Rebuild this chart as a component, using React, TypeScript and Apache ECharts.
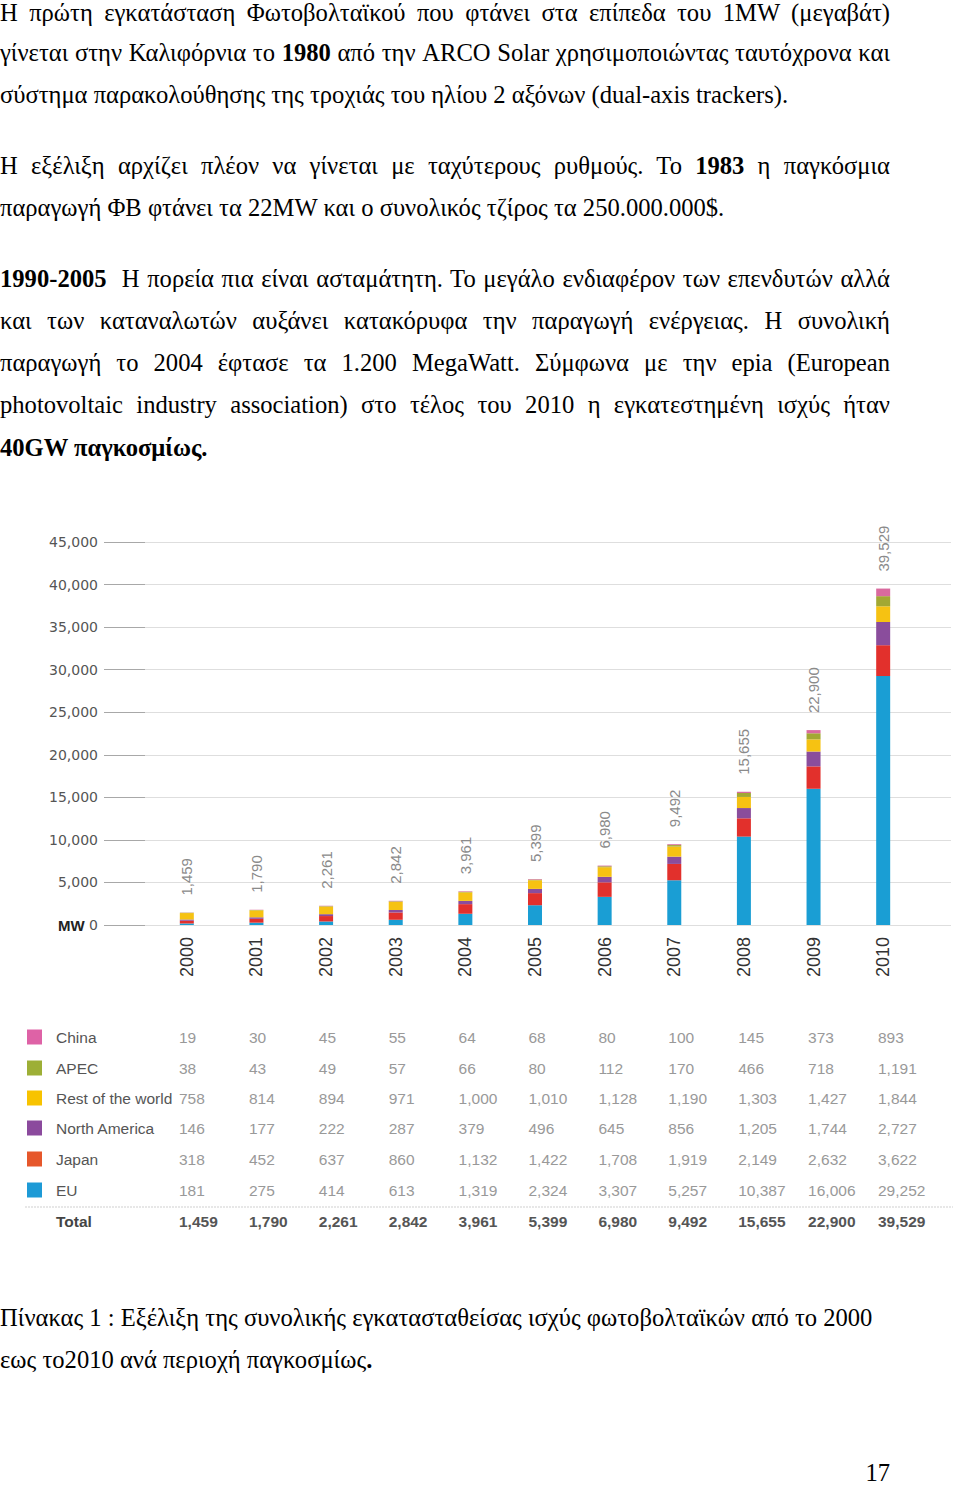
import React, { useEffect, useRef } from "react";
import * as echarts from "echarts";

// ---------- data ----------
const years = ["2000", "2001", "2002", "2003", "2004", "2005", "2006", "2007", "2008", "2009", "2010"];
const regionNames = ["China", "APEC", "Rest of the world", "North America", "Japan", "EU"];
const barColors = ["#d96a9e", "#a2a833", "#f6c212", "#8a4d9c", "#e2302c", "#1a9ed4"];
const swatchColors = ["#de62a6", "#9daf36", "#f8c300", "#8b4a9d", "#e6572b", "#1d9ad6"];
const china = [19, 30, 45, 55, 64, 68, 80, 100, 145, 373, 893];
const apec = [38, 43, 49, 57, 66, 80, 112, 170, 466, 718, 1191];
const restOfWorld = [758, 814, 894, 971, 1000, 1010, 1128, 1190, 1303, 1427, 1844];
const northAmerica = [146, 177, 222, 287, 379, 496, 645, 856, 1205, 1744, 2727];
const japan = [318, 452, 637, 860, 1132, 1422, 1708, 1919, 2149, 2632, 3622];
const eu = [181, 275, 414, 613, 1319, 2324, 3307, 5257, 10387, 16006, 29252];
const totals = [1459, 1790, 2261, 2842, 3961, 5399, 6980, 9492, 15655, 22900, 39529];
const regionValues = [china, apec, restOfWorld, northAmerica, japan, eu];
const yMin = 0;
const yMax = 45000;
const yStep = 5000;

// ---------- text ----------
type Seg = [string, boolean];
type Line = { segs: Seg[]; justify: boolean; baseline: number };
const lines: Line[] = [
  { segs: [["Η πρώτη εγκατάσταση Φωτοβολταϊκού που φτάνει στα επίπεδα του 1MW (μεγαβάτ)", false]], justify: true, baseline: 22 },
  { segs: [["γίνεται στην Καλιφόρνια το ", false], ["1980", true], [" από την ARCO Solar χρησιμοποιώντας ταυτόχρονα και", false]], justify: true, baseline: 62 },
  { segs: [["σύστημα παρακολούθησης της τροχιάς του ηλίου 2 αξόνων (dual-axis trackers).", false]], justify: false, baseline: 104 },
  { segs: [["Η εξέλιξη αρχίζει πλέον να γίνεται με ταχύτερους ρυθμούς. Το ", false], ["1983", true], [" η παγκόσμια", false]], justify: true, baseline: 175 },
  { segs: [["παραγωγή ΦΒ φτάνει τα 22MW και ο συνολικός τζίρος τα 250.000.000$.", false]], justify: false, baseline: 217 },
  { segs: [["1990-2005", true], ["\u00a0 Η πορεία πια είναι ασταμάτητη. Το μεγάλο ενδιαφέρον των επενδυτών αλλά", false]], justify: true, baseline: 288 },
  { segs: [["και των καταναλωτών αυξάνει κατακόρυφα την παραγωγή ενέργειας. Η συνολική", false]], justify: true, baseline: 330 },
  { segs: [["παραγωγή το 2004 έφτασε τα 1.200 MegaWatt. Σύμφωνα με την epia (European", false]], justify: true, baseline: 372 },
  { segs: [["photovoltaic industry association) στο τέλος του 2010 η εγκατεστημένη ισχύς ήταν", false]], justify: true, baseline: 414 },
  { segs: [["40GW παγκοσμίως.", true]], justify: false, baseline: 457 },
  { segs: [["Πίνακας 1 : Εξέλιξη της συνολικής εγκατασταθείσας ισχύς φωτοβολταϊκών από το 2000", false]], justify: false, baseline: 1327 },
  { segs: [["εως το2010 ανά περιοχή παγκοσμίως", false], [".", true]], justify: false, baseline: 1369 },
];

const FONT = 24.6;
const BASE_OFF = 0.8375 * FONT;
const serif = '"Liberation Serif", "Times New Roman", serif';

function TextLine({ line }: { line: Line }) {
  return (
    <div
      style={{
        position: "absolute",
        left: 0,
        top: line.baseline - BASE_OFF,
        width: 890,
        fontFamily: serif,
        fontSize: FONT,
        lineHeight: FONT + "px",
        color: "#000",
        textAlign: "justify",
        textAlignLast: line.justify ? "justify" : "left",
        whiteSpace: "nowrap",
      } as any}
    >
      {line.segs.map((s, i) => (s[1] ? <b key={i}>{s[0]}</b> : <span key={i}>{s[0]}</span>))}
    </div>
  );
}

function Chart() {
  const ref = useRef<HTMLDivElement>(null);
  useEffect(() => {
    if (!ref.current) return;
    const chart = echarts.init(ref.current, null, { renderer: "svg" });
    const sans = '"Liberation Sans", Arial, sans-serif';
    const order = [5, 4, 3, 2, 1, 0]; // EU bottom ... China top
    const series: any[] = order.map((ri, k) => ({
      name: regionNames[ri],
      type: "bar",
      stack: "total",
      xAxisIndex: 1,
      yAxisIndex: 1,
      barWidth: 14,
      data: regionValues[ri],
      itemStyle: { color: barColors[ri] },
      label:
        k === order.length - 1
          ? {
              show: true,
              position: "top",
              distance: 17,
              rotate: 90,
              align: "left",
              verticalAlign: "middle",
              color: "#8a8a8a",
              fontSize: 15,
              fontFamily: sans,
              formatter: (p: any) => totals[p.dataIndex].toLocaleString("en-US"),
            }
          : { show: false },
    }));

    // table graphic
    const rowY = [537, 568, 598, 628, 659, 690];
    const totalY = 721;
    const colX = years.map((_, i) => 179 + 69.9 * i);
    const graphics: any[] = [];
    regionNames.forEach((name, r) => {
      graphics.push({
        type: "rect",
        shape: { x: 27, y: rowY[r] - 7.5, width: 15, height: 15 },
        style: { fill: swatchColors[r] },
      });
      graphics.push({
        type: "text",
        x: 56,
        y: rowY[r],
        style: { text: name, fill: "#555", fontSize: 15.5, fontFamily: sans, verticalAlign: "middle", align: "left" },
      });
      regionValues[r].forEach((v, i) => {
        graphics.push({
          type: "text",
          x: colX[i],
          y: rowY[r],
          style: { text: v.toLocaleString("en-US"), fill: "#999", fontSize: 15.5, fontFamily: sans, verticalAlign: "middle", align: "left" },
        });
      });
    });
    graphics.push({
      type: "line",
      shape: { x1: 25, y1: 707, x2: 953, y2: 707 },
      style: { stroke: "#cfcfcf", lineWidth: 1, lineDash: [2, 1] },
    });
    graphics.push({
      type: "text",
      x: 56,
      y: totalY,
      style: { text: "Total", fill: "#444", fontSize: 15.5, fontWeight: "bold", fontFamily: sans, verticalAlign: "middle", align: "left" },
    });
    totals.forEach((v, i) => {
      graphics.push({
        type: "text",
        x: colX[i],
        y: totalY,
        style: { text: v.toLocaleString("en-US"), fill: "#555", fontSize: 15.5, fontWeight: "bold", fontFamily: sans, verticalAlign: "middle", align: "left" },
      });
    });

    chart.setOption({
      animation: false,
      grid: [
        { left: 104, top: 42, width: 847, height: 383 },
        { left: 152, top: 42, width: 766, height: 383 },
      ],
      xAxis: [
        { gridIndex: 0, type: "category", data: [""], show: false },
        {
          gridIndex: 1,
          type: "category",
          data: years,
          axisLine: { show: false },
          axisTick: { show: false },
          axisLabel: {
            rotate: 90,
            margin: 12,
            color: "#333",
            fontSize: 18,
            fontFamily: sans,
          },
        },
      ],
      yAxis: [
        {
          gridIndex: 0,
          type: "value",
          min: yMin,
          max: yMax,
          interval: yStep,
          axisLine: { show: false },
          axisTick: { show: true, inside: true, length: 41, lineStyle: { color: "#a8a8a8" } },
          splitLine: { lineStyle: { color: "#dedede" } },
          axisLabel: {
            margin: 6,
            color: "#555",
            fontSize: 14,
            fontFamily: '"DejaVu Sans", Verdana, sans-serif',
            formatter: (v: number) => (v === 0 ? "{mw|MW} 0" : v.toLocaleString("en-US")),
            rich: {
              mw: { fontWeight: "bold", color: "#222", fontSize: 15, fontFamily: sans },
            },
          },
        },
        { gridIndex: 1, type: "value", min: yMin, max: yMax, interval: yStep, show: false },
      ],
      series,
      graphic: graphics,
    });
    return () => chart.dispose();
  }, []);
  return <div ref={ref} style={{ position: "absolute", left: 0, top: 500, width: 960, height: 760 }} />;
}

export default function App() {
  return (
    <div style={{ position: "absolute", left: 0, top: 0, width: 960, height: 1487, background: "#fff", overflow: "hidden" }}>
      {lines.map((l, i) => (
        <TextLine key={i} line={l} />
      ))}
      <Chart />
      <div
        style={{
          position: "absolute",
          left: 0,
          top: 1481.5 - BASE_OFF,
          width: 890,
          textAlign: "right",
          fontFamily: serif,
          fontSize: FONT,
          lineHeight: FONT + "px",
        }}
      >
        17
      </div>
    </div>
  );
}
